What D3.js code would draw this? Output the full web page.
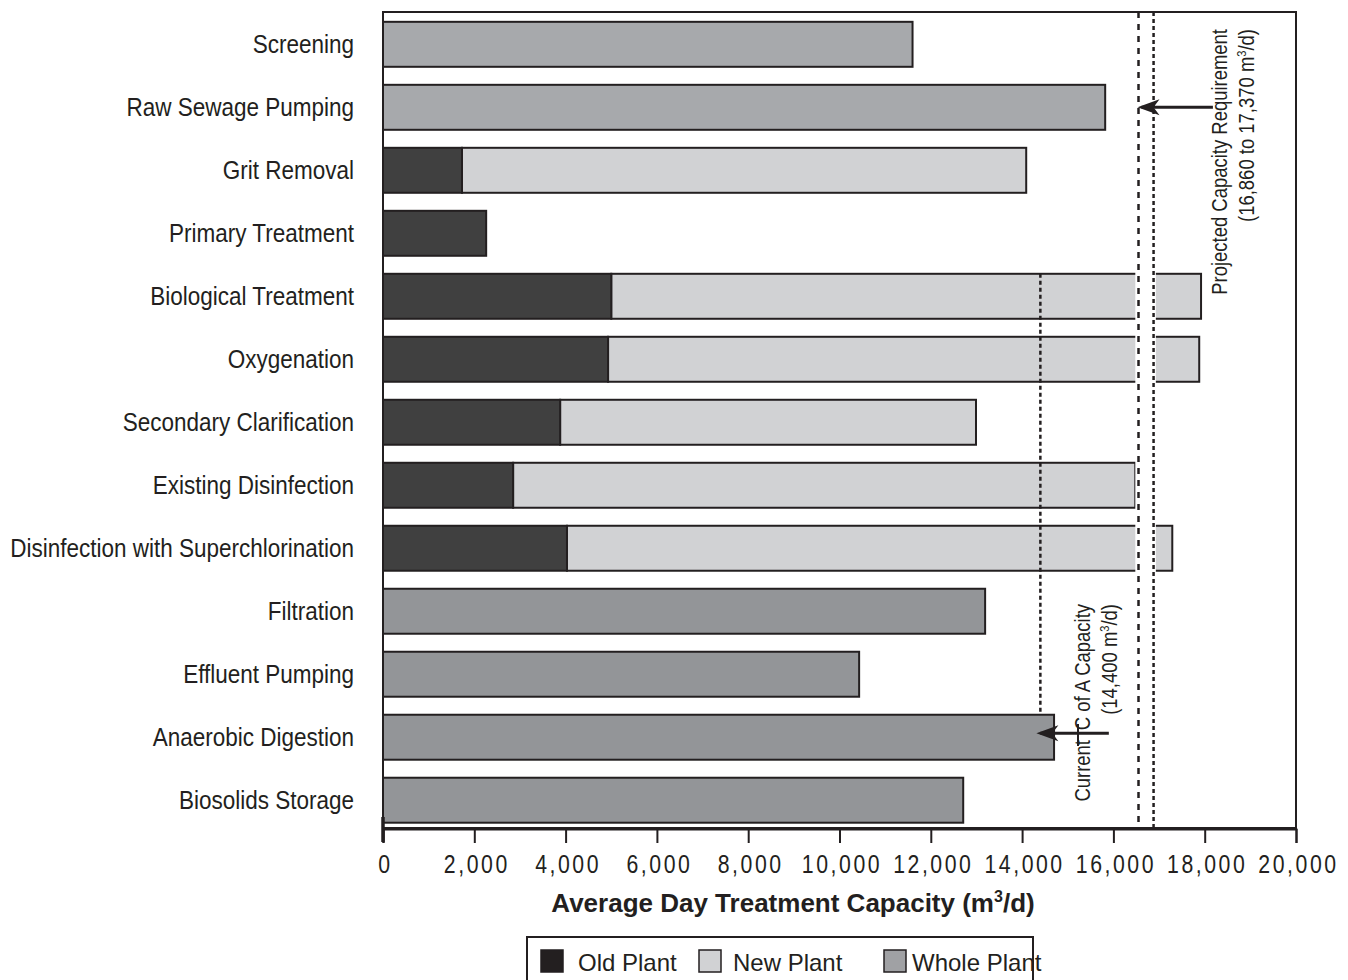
<!DOCTYPE html>
<html>
<head>
<meta charset="utf-8">
<script src="https://cdn.jsdelivr.net/npm/d3@7"></script>
<style>
  body { margin: 0; background: #fff; }
  svg { display: block; font-family: "Liberation Sans", Arial, sans-serif; }
</style>
</head>
<body>
<svg></svg>
<script>
// Chart data
let categories = ['Screening', 'Raw Sewage Pumping', 'Grit Removal', 'Primary Treatment',
    'Biological Treatment', 'Oxygenation', 'Secondary Clarification', 'Existing Disinfection',
    'Disinfection with Superchlorination', 'Filtration', 'Effluent Pumping',
    'Anaerobic Digestion', 'Biosolids Storage'];
let oldPlant = [null, null, 1730, 2260, 5000, 4930, 3880, 2850, 4030, null, null, null, null];
let newPlant = [null, null, 12360, null, 12920, 12950, 9110, 13630, 13260, null, null, null, null];
let wholePlant = [11600, 15820, null, null, null, null, null, null, null, 13190, 10430, 14700, 12710];
let xTicks = [0, 2000, 4000, 6000, 8000, 10000, 12000, 14000, 16000, 18000, 20000];
let currentCapacity = 14400;
let projectedLines = [16550, 16880];
let projectedBand = [16480, 16930];

// SVG dimensions
let width = 1348, height = 980;
let plot = { left: 383, right: 1296, top: 12, bottom: 828 };
let stroke = '#231f20';

let svg = d3.select('svg').attr('width', width).attr('height', height);

let x = d3.scaleLinear().domain([0, 20000]).range([plot.left, plot.right]);
let y = d3.scaleBand().domain(categories).range([plot.top, plot.bottom])
    .paddingInner(0.286).paddingOuter(0.12).align(0.65);

function wholeColor(i) {
    return i < 2 ? '#a7a9ac' : '#939598';
}

// Category labels (condensed look)
svg.append('g').selectAll('text')
    .data(categories)
    .enter()
    .append('text')
    .attr('transform', d => `translate(354,${y(d) + y.bandwidth() / 2 + 9}) scale(0.9,1)`)
    .attr('text-anchor', 'end')
    .attr('font-size', 25)
    .attr('fill', stroke)
    .text(d => d);

let bars = svg.append('g');

// Whole plant bars
bars.selectAll('rect.whole')
    .data(categories.map((c, i) => ({ c, i, v: wholePlant[i] })).filter(d => d.v != null))
    .enter()
    .append('rect')
    .attr('class', 'whole')
    .attr('x', x(0))
    .attr('y', d => y(d.c))
    .attr('width', d => x(d.v) - x(0))
    .attr('height', y.bandwidth())
    .attr('fill', d => wholeColor(d.i))
    .attr('stroke', stroke)
    .attr('stroke-width', 2);

// New plant bars (stacked after old plant)
bars.selectAll('rect.new')
    .data(categories.map((c, i) => ({ c, o: oldPlant[i], v: newPlant[i] })).filter(d => d.v != null))
    .enter()
    .append('rect')
    .attr('class', 'new')
    .attr('x', d => x(d.o))
    .attr('y', d => y(d.c))
    .attr('width', d => x(d.o + d.v) - x(d.o))
    .attr('height', y.bandwidth())
    .attr('fill', '#d1d2d4')
    .attr('stroke', stroke)
    .attr('stroke-width', 2);

// Old plant bars
bars.selectAll('rect.old')
    .data(categories.map((c, i) => ({ c, v: oldPlant[i] })).filter(d => d.v != null))
    .enter()
    .append('rect')
    .attr('class', 'old')
    .attr('x', x(0))
    .attr('y', d => y(d.c))
    .attr('width', d => x(d.v) - x(0))
    .attr('height', y.bandwidth())
    .attr('fill', '#404040')
    .attr('stroke', stroke)
    .attr('stroke-width', 2);

// White gap behind projected requirement lines
svg.append('rect')
    .attr('x', x(projectedBand[0]))
    .attr('y', plot.top + 1)
    .attr('width', x(projectedBand[1]) - x(projectedBand[0]))
    .attr('height', plot.bottom - plot.top - 2)
    .attr('fill', '#fff');

svg.selectAll('line.proj')
    .data(projectedLines)
    .enter()
    .append('line')
    .attr('class', 'proj')
    .attr('x1', d => x(d)).attr('x2', d => x(d))
    .attr('y1', plot.top).attr('y2', plot.bottom)
    .attr('stroke', stroke)
    .attr('stroke-width', 2.5)
    .attr('stroke-dasharray', (d, i) => i === 0 ? '6,6' : '4,3');

// Current C of A capacity line
svg.append('line')
    .attr('x1', x(currentCapacity)).attr('x2', x(currentCapacity))
    .attr('y1', y('Biological Treatment'))
    .attr('y2', y('Anaerobic Digestion'))
    .attr('stroke', stroke)
    .attr('stroke-width', 2.5)
    .attr('stroke-dasharray', '4,3');

// Plot frame
svg.append('rect')
    .attr('x', plot.left).attr('y', plot.top)
    .attr('width', plot.right - plot.left)
    .attr('height', plot.bottom - plot.top)
    .attr('fill', 'none')
    .attr('stroke', stroke)
    .attr('stroke-width', 2);

// X axis
let xAxis = d3.axisBottom(x).tickValues(xTicks).tickSize(14).tickPadding(12)
    .tickFormat(d3.format(','));
let axisG = svg.append('g')
    .attr('transform', `translate(0,${plot.bottom + 1})`)
    .call(xAxis);
axisG.select('.domain').attr('stroke', stroke).attr('stroke-width', 2);
axisG.selectAll('.tick line').attr('stroke', stroke).attr('stroke-width', 2);
axisG.selectAll('.tick text')
    .attr('font-size', 25)
    .attr('font-family', '"Liberation Sans", Arial, sans-serif')
    .attr('fill', stroke)
    .attr('letter-spacing', '3px')
    .attr('transform', 'translate(2,0) scale(0.85,1)');

// Bold zero tick
svg.append('line')
    .attr('x1', x(0)).attr('x2', x(0))
    .attr('y1', plot.bottom - 11).attr('y2', plot.bottom + 14)
    .attr('stroke', stroke).attr('stroke-width', 3.5);

// Axis title
let title = svg.append('text')
    .attr('x', 793)
    .attr('y', 912)
    .attr('text-anchor', 'middle')
    .attr('font-size', 26)
    .attr('font-weight', 'bold')
    .attr('fill', stroke);
title.append('tspan').text('Average Day Treatment Capacity (m');
title.append('tspan').attr('font-size', 16).attr('dy', -10).text('3');
title.append('tspan').attr('dy', 10).text('/d)');

function arrow(xFrom, xTo, yPos) {
    svg.append('line')
        .attr('x1', xFrom).attr('x2', xTo + 4)
        .attr('y1', yPos).attr('y2', yPos)
        .attr('stroke', stroke).attr('stroke-width', 3);
    svg.append('path')
        .attr('d', `M${xTo},${yPos} L${xTo + 22},${yPos - 8} L${xTo + 16},${yPos} L${xTo + 22},${yPos + 8} Z`)
        .attr('fill', stroke);
}

arrow(x(18180), x(projectedLines[0]) - 1, y('Raw Sewage Pumping') + y.bandwidth() / 2);
arrow(x(15900), x(currentCapacity) - 4, y('Anaerobic Digestion') + y.bandwidth() / 2 - 4);

// Rotated annotation text
function rotatedText(bx, topY, size, parts) {
    let t = svg.append('text')
        .attr('transform', `translate(${bx},${topY}) rotate(-90) scale(0.84,1)`)
        .attr('text-anchor', 'end')
        .attr('font-size', size)
        .attr('fill', stroke);
    parts.forEach(p => {
        let s = t.append('tspan').text(p.t);
        if (p.sup) s.attr('font-size', size * 0.6).attr('dy', -8);
        if (p.down) s.attr('dy', 8);
    });
}

rotatedText(1227, 29, 22, [{ t: 'Projected Capacity Requirement' }]);
rotatedText(1254, 29, 22, [{ t: '(16,860 to 17,370 m' }, { t: '3', sup: true }, { t: '/d)', down: true }]);
rotatedText(1090, 604, 22, [{ t: 'C of A Capacity' }]);
rotatedText(1090, 740, 22, [{ t: 'Current' }]);
rotatedText(1117, 604, 22, [{ t: '(14,400 m' }, { t: '3', sup: true }, { t: '/d)', down: true }]);

// small tick between "Current" and "C"
svg.append('line')
    .attr('x1', 1078).attr('x2', 1078)
    .attr('y1', 724).attr('y2', 746)
    .attr('stroke', stroke).attr('stroke-width', 2);

// Legend
let legendItems = [
    { label: 'Old Plant', color: '#231f20', sx: 541, tx: 578 },
    { label: 'New Plant', color: '#d1d2d4', sx: 699, tx: 733 },
    { label: 'Whole Plant', color: '#a0a1a4', sx: 884, tx: 912 }
];
svg.append('rect')
    .attr('x', 527).attr('y', 937)
    .attr('width', 506).attr('height', 60)
    .attr('fill', '#fff')
    .attr('stroke', stroke).attr('stroke-width', 2);
let lg = svg.append('g').selectAll('g')
    .data(legendItems)
    .enter()
    .append('g');
lg.append('rect')
    .attr('x', d => d.sx).attr('y', 950)
    .attr('width', 22).attr('height', 22)
    .attr('fill', d => d.color)
    .attr('stroke', stroke).attr('stroke-width', 1.5);
lg.append('text')
    .attr('x', d => d.tx).attr('y', 971)
    .attr('font-size', 24)
    .attr('fill', stroke)
    .text(d => d.label);
</script>
</body>
</html>
